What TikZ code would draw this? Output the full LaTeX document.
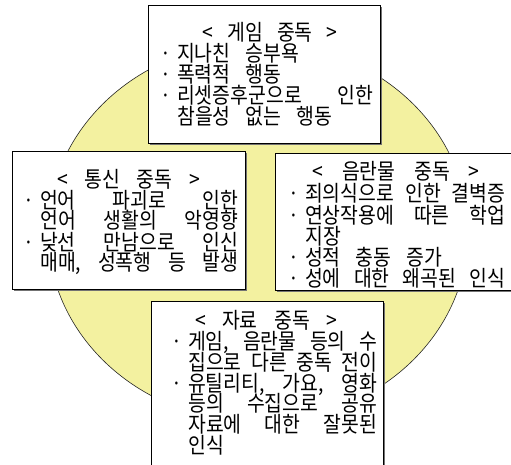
\documentclass[tikz,border=0pt]{standalone}
\usepackage{fontspec}
\setmainfont{Noto Sans CJK KR}[FakeStretch=0.88]
\usetikzlibrary{shapes.geometric,shadows}
\definecolor{ellfill}{RGB}{243,241,160}
\newcommand{\mybul}{\llap{·\kern6pt}}
\newcommand{\kfont}{\fontsize{22}{21}\selectfont\spaceskip=15pt plus 20pt minus 13pt\relax}
\newcommand{\jline}[2]{\makebox[#1][s]{#2}}
\begin{document}
\begin{tikzpicture}[x=1pt,y=-1pt,
  ell/.style={ellipse,draw=black!85,line width=0.6pt,fill=ellfill,inner sep=0},
  box/.style={rectangle,draw=black,line width=0.8pt,fill=white,inner sep=0,anchor=north west,
    drop shadow={shadow xshift=1.6pt,shadow yshift=-1.6pt,fill=black!55,opacity=1}},
  tx/.style={inner sep=0,anchor=base west,font=\kfont},
  tt/.style={tx,anchor=base}]
\useasboundingbox (0,0) rectangle (511,465);
\clip (0,0) rectangle (511,465);
\node[ell,minimum width=420pt,minimum height=380pt] (circ) at (258,232) {};
% boxes
\node[box,minimum width=232pt,minimum height=138pt] (game) at (148,5) {};
\node[box,minimum width=233pt,minimum height=138pt] (comm) at (12,151) {};
\node[box,minimum width=240pt,minimum height=137pt] (porn) at (275,153) {};
\node[box,minimum width=232pt,minimum height=175pt] (data) at (151,301) {};
% game
\node[tt] (g0) at (270,41) {\jline{135pt}{< 게임 중독 >}};
\node[tx] (g1) at (177,62) {\mybul 지나친 승부욕};
\node[tx] (g2) at (177,83) {\mybul 폭력적 행동};
\node[tx] (g3) at (177,104) {\mybul\jline{196pt}{리셋증후군으로 인한}};
\node[tx] (g4) at (177,125) {참을성 없는 행동};
% communication
\node[tt] (c0) at (128.5,188) {\jline{143pt}{< 통신 중독 >}};
\node[tx] (c1) at (40,208) {\mybul\jline{198pt}{언어 파괴로 인한}};
\node[tx] (c2) at (40,229) {\jline{198pt}{언어 생활의 악영향}};
\node[tx] (c3) at (40,250) {\mybul\jline{198pt}{낮선 만남으로 인신}};
\node[tx] (c4) at (40,270) {\jline{198pt}{매매, 성폭행 등 발생}};
% obscene material
\node[tt] (r0) at (396,180) {\jline{167pt}{< 음란물 중독 >}};
\node[tx] (r1) at (305,201) {\mybul\jline{200pt}{죄의식으로 인한 결벽증}};
\node[tx] (r2) at (305,223) {\mybul\jline{200pt}{연상작용에 따른 학업}};
\node[tx] (r3) at (305,244) {지장};
\node[tx] (r4) at (305,265) {\mybul 성적 충동 증가};
\node[tx] (r5) at (305,286) {\mybul\jline{200pt}{성에 대한 왜곡된 인식}};
% data
\node[tt] (d0) at (266,328) {\jline{142pt}{< 자료 중독 >}};
\node[tx] (d1) at (188,349) {\mybul\jline{189pt}{게임, 음란물 등의 수}};
\node[tx] (d2) at (188,370) {\jline{189pt}{집으로 다른 중독 전이}};
\node[tx] (d3) at (188,391) {\mybul\jline{189pt}{유틸리티, 가요, 영화}};
\node[tx] (d4) at (188,411) {\jline{189pt}{등의 수집으로 공유}};
\node[tx] (d5) at (188,432) {\jline{189pt}{자료에 대한 잘못된}};
\node[tx] (d6) at (188,453) {인식};
\end{tikzpicture}
\end{document}
